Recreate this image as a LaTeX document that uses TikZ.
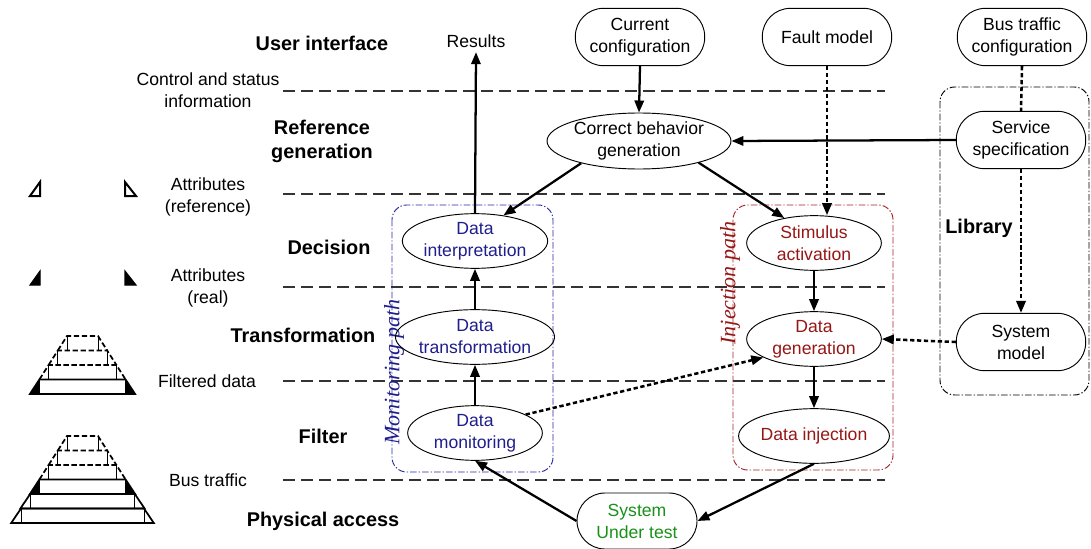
\documentclass[tikz,border=0pt]{standalone}
\usepackage{fontspec}
\setmainfont{Liberation Sans}
\newfontfamily\pathfont{Liberation Serif}
\usetikzlibrary{shapes.geometric,arrows.meta}
\definecolor{monblue}{RGB}{30,30,140}
\definecolor{monframe}{RGB}{40,40,160}
\definecolor{injred}{RGB}{150,22,22}
\definecolor{injframe}{RGB}{165,35,35}
\definecolor{sutgreen}{RGB}{25,145,25}
\begin{document}
\begin{tikzpicture}[x=0.75pt,y=-0.75pt,
  every node/.style={font=\fontsize{13.2}{16.5}\selectfont, align=center},
  layer/.style={font=\fontsize{14.9}{18}\selectfont\bfseries, align=center},
  ell/.style={draw, ellipse, line width=0.7pt, inner sep=0pt,
              minimum width=101pt, minimum height=41pt},
  pill/.style={draw, rectangle, rounded corners=21pt, line width=0.7pt,
               inner sep=0pt, minimum width=97pt, minimum height=43pt},
  flow/.style={line width=1.7pt, -{Triangle[length=9pt,width=7pt]}},
  dotline/.style={line width=1.9pt, dash pattern=on 3.2pt off 2pt},
  dotflow/.style={dotline, -{Triangle[length=9pt,width=7pt]}},
  levelline/.style={line width=0.9pt, black!80, dash pattern=on 9pt off 4.5pt},
  frame/.style={line width=0.7pt, rounded corners=11pt,
                dash pattern=on 5pt off 1.5pt on 1pt off 1.5pt},
  pyr/.style={line width=1.3pt},
  pyrdash/.style={line width=1.3pt, dash pattern=on 4pt off 2pt},
  pyrthin/.style={line width=0.6pt}
]
\useasboundingbox (0,0) rectangle (1091,549);

% ---- abstraction levels ----
\foreach \yy in {91,194,287,381,480}
  \draw[levelline] (283,\yy) -- (885,\yy);

\node[layer] (lui)  at (322,43)  {User interface};
\node[layer] (lref) at (322,141) {Reference\\generation};
\node[layer] (ldec) at (329,247) {Decision};
\node[layer] (ltr)  at (303,335) {Transformation};
\node[layer] (lfil) at (323,436) {Filter};
\node[layer] (lphy) at (323,521) {Physical access};

\node (tcs)  at (208,90)  {Control and status\\information};
\node (tar)  at (208,197) {Attributes\\(reference)};
\node (tare) at (208,288) {Attributes\\(real)};
\node (tfd)  at (207,381) {Filtered data};
\node (tbt)  at (208,480) {Bus traffic};

% ---- attribute symbols ----
\draw[pyr, line width=1.5pt] (30,196) -- (40,196) -- (40,182) -- cycle;
\draw[pyr, line width=1.5pt] (125,182) -- (125,196) -- (136,196) -- cycle;
\filldraw[line width=0.8pt] (30,285) -- (40,285) -- (40,271) -- cycle;
\filldraw[line width=0.8pt] (125,271) -- (125,285) -- (136,285) -- cycle;

% ---- data pyramids ----
% bus traffic: all six levels
\foreach \k in {0,1} {
  \pgfmathsetmacro\yb{523-14.5*\k}
  \pgfmathsetmacro\yt{\yb-14.5}
  \pgfmathsetmacro\wi{61.5-9.2*\k}
  \pgfmathsetmacro\wo{\wi+9.8}
  \draw[pyr] (82.5-\wo,\yb) -- (82.5+\wo,\yb) -- (82.5+\wi,\yt)
             -- (82.5-\wi,\yt) -- cycle;
  \draw[pyrthin] (82.5-\wi,\yb) -- (82.5-\wi,\yt)
                 (82.5+\wi,\yb) -- (82.5+\wi,\yt);
}
% levels shared by both pyramids (shifted by 0 and 100)
\foreach \s in {0,100} {
  \pgfmathsetmacro\yb{523-14.5*2-\s}
  \pgfmathsetmacro\yt{\yb-14.5}
  \pgfmathsetmacro\wi{61.5-9.2*2}
  \pgfmathsetmacro\wo{\wi+9.5}
  \fill (82.5-\wo,\yb) -- (82.5-\wi,\yb) -- (82.5-\wi,\yt) -- cycle;
  \fill (82.5+\wo,\yb) -- (82.5+\wi,\yb) -- (82.5+\wi,\yt) -- cycle;
  \draw[pyr] (82.5-\wo,\yb) -- (82.5+\wo,\yb) -- (82.5+\wi,\yt)
             -- (82.5-\wi,\yt) -- cycle;
  \draw[pyr] (82.5-\wi,\yb) -- (82.5-\wi,\yt)
             (82.5+\wi,\yb) -- (82.5+\wi,\yt);
  \foreach \k in {3,4,5} {
    \pgfmathsetmacro\yb{523-14.5*\k-\s}
    \pgfmathsetmacro\yt{\yb-14.5}
    \pgfmathsetmacro\wi{61.5-9.2*\k}
    \pgfmathsetmacro\wo{\wi+9.2}
    \draw[pyrdash] (82.5-\wo,\yb) -- (82.5-\wi,\yt) -- (82.5+\wi,\yt)
                   -- (82.5+\wo,\yb);
    \draw[pyrthin] (82.5-\wi,\yb) -- (82.5-\wi,\yt)
                   (82.5+\wi,\yb) -- (82.5+\wi,\yt);
  }
}

% ---- path frames ----
\draw[frame, monframe] (392,205) rectangle (553,472);
\draw[frame, injframe] (733,205) rectangle (893,470);
\draw[frame, black] (940,87) rectangle (1089,395);
\node[rotate=90, text=monblue, font=\pathfont\itshape\fontsize{16.5}{18}\selectfont]
  (mpath) at (394,372) {Monitoring path};
\node[rotate=90, text=injred, font=\pathfont\itshape\fontsize{16.5}{18}\selectfont]
  (ipath) at (730,283) {Injection path};
\node[layer] (llib) at (979,228) {Library};

% ---- inputs ----
\node[pill] (cc) at (640,37)  {Current\\configuration};
\node[pill] (fm) at (827,37)  {Fault model};
\node[pill] (bt) at (1022,37) {Bus traffic\\configuration};
\node (res) at (476,41) {Results};

% ---- reference generation and library ----
\node[ell, minimum width=122pt, minimum height=42pt] (cb) at (639,141)
  {Correct behavior\\generation};
\node[pill] (ss) at (1021,140) {Service\\specification};
\node[pill] (sm) at (1021,342) {System\\model};

% ---- monitoring path ----
\node[ell, text=monblue] (di) at (475,241) {Data\\interpretation};
\node[ell, text=monblue] (dt) at (475,337) {Data\\transformation};
\node[ell, text=monblue] (dm) at (475,433) {Data\\monitoring};

% ---- injection path ----
\node[ell, text=injred] (sa) at (814,243) {Stimulus\\activation};
\node[ell, text=injred] (dg) at (814,339) {Data\\generation};
\node[ell, text=injred] (dj) at (814,436) {Data injection};

% ---- system under test ----
\node[pill, minimum width=90pt, minimum height=42pt, text=sutgreen]
  (sut) at (637,521) {System\\Under test};

% ---- solid flows ----
\draw[flow] (cc.south) -- (cb.north);
\draw[flow] (ss.west) -- (cb.east);
\draw[flow] (cb.201) -- (di.42);
\draw[flow] (cb.340) -- (sa.140);
\draw[flow] (di.north) -- (res.south);
\draw[flow] (dt.north) -- (di.south);
\draw[flow] (dm.north) -- (dt.south);
\draw[flow] (sut.west) -- (dm.south);
\draw[flow] (sa.south) -- (dg.north);
\draw[flow] (dg.south) -- (dj.north);
\draw[flow] (dj.south) -- (sut.east);

% ---- dotted flows ----
\draw[dotflow] (fm.south) -- (fm.south |- sa.north);
\draw[dotline] (bt.south) -- (ss.north);
\draw[dotflow] (ss.south) -- (sm.north);
\draw[dotflow] (sm.west) -- (dg.east);
\draw[dotflow] (dm.20) -- (dg.200);
\end{tikzpicture}
\end{document}
